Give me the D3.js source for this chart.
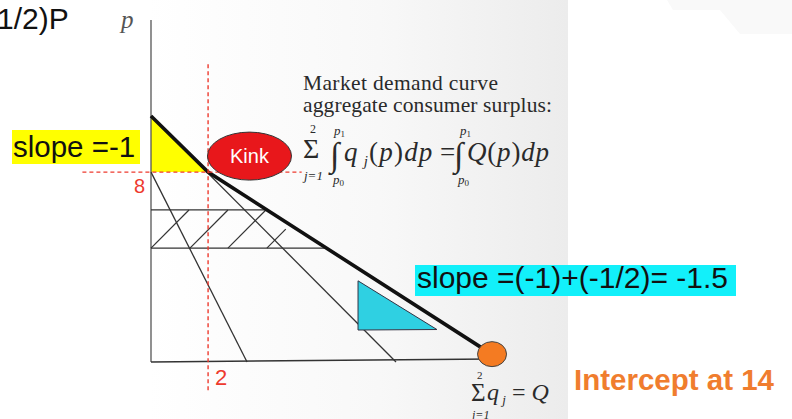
<!DOCTYPE html>
<html>
<head>
<meta charset="utf-8">
<script src="https://cdn.jsdelivr.net/npm/d3@7"></script>
<style>
  html, body { margin: 0; padding: 0; background: #fff; }
  svg { display: block; }
  .sans { font-family: "Liberation Sans", Arial, sans-serif; }
  .serif { font-family: "Liberation Serif", "Times New Roman", serif; }
</style>
</head>
<body>
<svg id="chart" width="792" height="419"></svg>
<script>
// quantity (q) and price (p)
const axisMax = [13.9, 13.9];                 // q end of x axis, p end of y axis
const consumer1 = [[0, 10], [10, 0]];         // first individual demand
const consumer2 = [[0, 7.72], [3.92, 0]];     // second individual demand
const aggregate = [[0, 10], [2.33, 7.72], [13.9, 0.32]]; // market demand (kinked)
const kink = [2.33, 7.72];
const bandPrices = [6.18, 4.63];              // hatched band, top and bottom
const hatchStarts = [0, 1.59, 3.14, 4.73];    // q where each hatch stroke starts on the band bottom
const hatchTops = [6.18, 6.18, 6.18, 5.4];    // p where each hatch stroke ends
const yellowTri = [[0, 10], [0, 7.72], [2.33, 7.72]];
const cyanTri = [[8.45, 3.3], [8.45, 1.3], [11.67, 1.32]];
const interceptPt = [13.92, 0.32];
const kinkLabelPt = [4.02, 8.37];
const guideV = [-1.15, 12.1];   // p range of vertical red guide
const guideH = [-2.8, 6.15];    // q range of horizontal red guide
const tickLabels = ["8", "2"];

const svg = d3.select("#chart");
const x = d3.scaleLinear().domain([0, 14]).range([151, 494]);
const y = d3.scaleLinear().domain([0, 10]).range([362, 116]);
const line = d3.line().x(d => x(d[0])).y(d => y(d[1]));

// scanned page shading
const defs = svg.append("defs");
const grad = defs.append("linearGradient").attr("id", "page");
grad.append("stop").attr("offset", "0%").attr("stop-color", "#ffffff");
grad.append("stop").attr("offset", "55%").attr("stop-color", "#f8f8f8");
grad.append("stop").attr("offset", "100%").attr("stop-color", "#ececec");
svg.append("rect").attr("x", 148).attr("y", 0).attr("width", 420).attr("height", 419)
  .attr("fill", "url(#page)");
svg.append("path").attr("d", "M667,0 L673,10 L720,10 L740,34 L792,34 L792,0 Z").attr("fill", "#f9f9f9");

// yellow triangle under the first segment
svg.append("path").attr("d", line(yellowTri) + "Z").attr("fill", "#ffff00");

// axes
svg.append("path").attr("d", line([[0, 0], [0, axisMax[1]]]))
  .attr("stroke", "#555").attr("stroke-width", 1.3).attr("fill", "none");
svg.append("path").attr("d", line([[0, 0], [axisMax[0], 0.12]]))
  .attr("stroke", "#333").attr("stroke-width", 1.5).attr("fill", "none");

// hatched band
const aggAt = p => {
  const [a, b] = [aggregate[1], aggregate[2]];
  return a[0] + (a[1] - p) * (b[0] - a[0]) / (a[1] - b[1]);
};
svg.selectAll(".band").data(bandPrices).enter().append("path")
  .attr("class", "band")
  .attr("d", p => line([[0, p], [aggAt(p), p]]))
  .attr("stroke", "#333").attr("stroke-width", 1.2).attr("fill", "none");
svg.selectAll(".hatch").data(hatchStarts).enter().append("path")
  .attr("class", "hatch")
  .attr("d", (q, i) => {
    const dp = hatchTops[i] - bandPrices[1];
    return line([[q, bandPrices[1]], [q + dp, hatchTops[i]]]);
  })
  .attr("stroke", "#333").attr("stroke-width", 1.2).attr("fill", "none");

// individual demands
svg.selectAll(".indiv").data([consumer1, consumer2]).enter().append("path")
  .attr("class", "indiv")
  .attr("d", line)
  .attr("stroke", "#333").attr("stroke-width", 1.3).attr("fill", "none");

// cyan triangle
svg.append("path").attr("d", line(cyanTri) + "Z")
  .attr("fill", "#2fd0e2").attr("stroke", "#334").attr("stroke-width", 1);

// market demand
svg.append("path").attr("d", line(aggregate))
  .attr("stroke", "#111").attr("stroke-width", 3.6).attr("fill", "none");

// red guides
svg.append("path").attr("d", line([[kink[0], guideV[0]], [kink[0], guideV[1]]]))
  .attr("stroke", "#ee3a2e").attr("stroke-width", 1.4).attr("stroke-dasharray", "4,3").attr("fill", "none");
svg.append("path").attr("d", line([[guideH[0], kink[1]], [guideH[1], kink[1]]]))
  .attr("stroke", "#ee3a2e").attr("stroke-width", 1.4).attr("stroke-dasharray", "4,3").attr("fill", "none");
svg.append("text").attr("x", x(0) - 17).attr("y", y(kink[1]) + 21)
  .attr("class", "sans").attr("font-size", 20).attr("fill", "#ee3a2e").text(tickLabels[0]);
svg.append("text").attr("x", x(kink[0]) + 7).attr("y", 385)
  .attr("class", "sans").attr("font-size", 22).attr("fill", "#ee3a2e").text(tickLabels[1]);

// kink bubble
svg.append("ellipse").attr("cx", x(kinkLabelPt[0])).attr("cy", y(kinkLabelPt[1]))
  .attr("rx", 42).attr("ry", 24).attr("fill", "#e8171b").attr("stroke", "#333").attr("stroke-width", 1);
svg.append("text").attr("x", x(kinkLabelPt[0])).attr("y", y(kinkLabelPt[1]) + 7)
  .attr("text-anchor", "middle").attr("class", "sans").attr("font-size", 20).attr("fill", "#fff").text("Kink");

// intercept dot
svg.append("ellipse").attr("cx", x(interceptPt[0])).attr("cy", y(interceptPt[1]))
  .attr("rx", 14.5).attr("ry", 12.5).attr("fill", "#f47b22").attr("stroke", "#444").attr("stroke-width", 1);

// axis label p
svg.append("text").attr("x", 121).attr("y", 28).attr("class", "serif")
  .attr("font-style", "italic").attr("font-size", 25).attr("fill", "#555").text("p");

// slide labels
svg.append("text").attr("x", -3).attr("y", 29).attr("class", "sans").attr("font-size", 30).attr("fill", "#111").text("1/2)P");

svg.append("rect").attr("x", 12).attr("y", 130).attr("width", 128).attr("height", 34).attr("fill", "#ffff00");
svg.append("text").attr("x", 13).attr("y", 157).attr("class", "sans").attr("font-size", 29.5).attr("fill", "#111").text("slope =-1");

svg.append("rect").attr("x", 415).attr("y", 265).attr("width", 321).attr("height", 31).attr("fill", "#12f0fa");
svg.append("text").attr("x", 417).attr("y", 288).attr("class", "sans").attr("font-size", 30).attr("fill", "#111")
  .text("slope =(-1)+(-1/2)= -1.5");

svg.append("text").attr("x", 574).attr("y", 390).attr("class", "sans").attr("font-weight", "bold")
  .attr("font-size", 29.5).attr("fill", "#f07d2e").text("Intercept at 14");

// textbook annotation
const ink = "#2a2a2a";
const serifText = (tx, ty, size, str, italic) => svg.append("text").attr("x", tx).attr("y", ty)
  .attr("class", "serif").attr("font-size", size).attr("fill", ink)
  .attr("font-style", italic ? "italic" : "normal").text(str);
const limit = (tx, ty, sub) => {
  const t = serifText(tx, ty, 13, "", true);
  t.append("tspan").text("p");
  t.append("tspan").attr("font-size", 9).attr("font-style", "normal").attr("dy", 2).text(sub);
};

serifText(303, 90, 21.5, "Market demand curve").attr("textLength", 195);
serifText(303, 112, 21.5, "aggregate consumer surplus:").attr("textLength", 249);

serifText(303, 158, 28, "\u03A3");
serifText(310, 133, 12, "2");
serifText(304, 180, 13, "j=1", true);
serifText(330, 166, 34, "\u222B", true);
limit(334, 135, "1");
limit(333, 184, "0");

const f1 = svg.append("text").attr("x", 344).attr("y", 161).attr("class", "serif")
  .attr("font-size", 27).attr("fill", ink).attr("font-style", "italic").attr("letter-spacing", 1.2);
f1.append("tspan").text("q");
f1.append("tspan").attr("font-size", 15).attr("dy", 5).text(" j");
f1.append("tspan").attr("dy", -5).attr("font-style", "normal").text("(");
f1.append("tspan").text("p");
f1.append("tspan").attr("font-style", "normal").text(")");
f1.append("tspan").text("dp");
serifText(440, 161, 27, "=");
serifText(454, 166, 34, "\u222B", true);
limit(460, 135, "1");
limit(458, 184, "0");
const f2 = svg.append("text").attr("x", 467).attr("y", 161).attr("class", "serif")
  .attr("font-size", 27).attr("fill", ink).attr("font-style", "italic").attr("letter-spacing", 0.8);
f2.append("tspan").text("Q");
f2.append("tspan").attr("font-style", "normal").text("(");
f2.append("tspan").text("p");
f2.append("tspan").attr("font-style", "normal").text(")");
f2.append("tspan").text("dp");

// bottom sum
serifText(471, 401, 25, "\u03A3");
serifText(477, 379, 11, "2");
serifText(472, 419, 12, "j=1", true);
const f3 = svg.append("text").attr("x", 487).attr("y", 400).attr("class", "serif")
  .attr("font-size", 24).attr("fill", ink).attr("font-style", "italic");
f3.append("tspan").text("q");
f3.append("tspan").attr("font-size", 13).attr("dy", 4).text(" j");
f3.append("tspan").attr("dy", -4).attr("font-style", "normal").text(" = ");
f3.append("tspan").text("Q");
</script>
</body>
</html>
